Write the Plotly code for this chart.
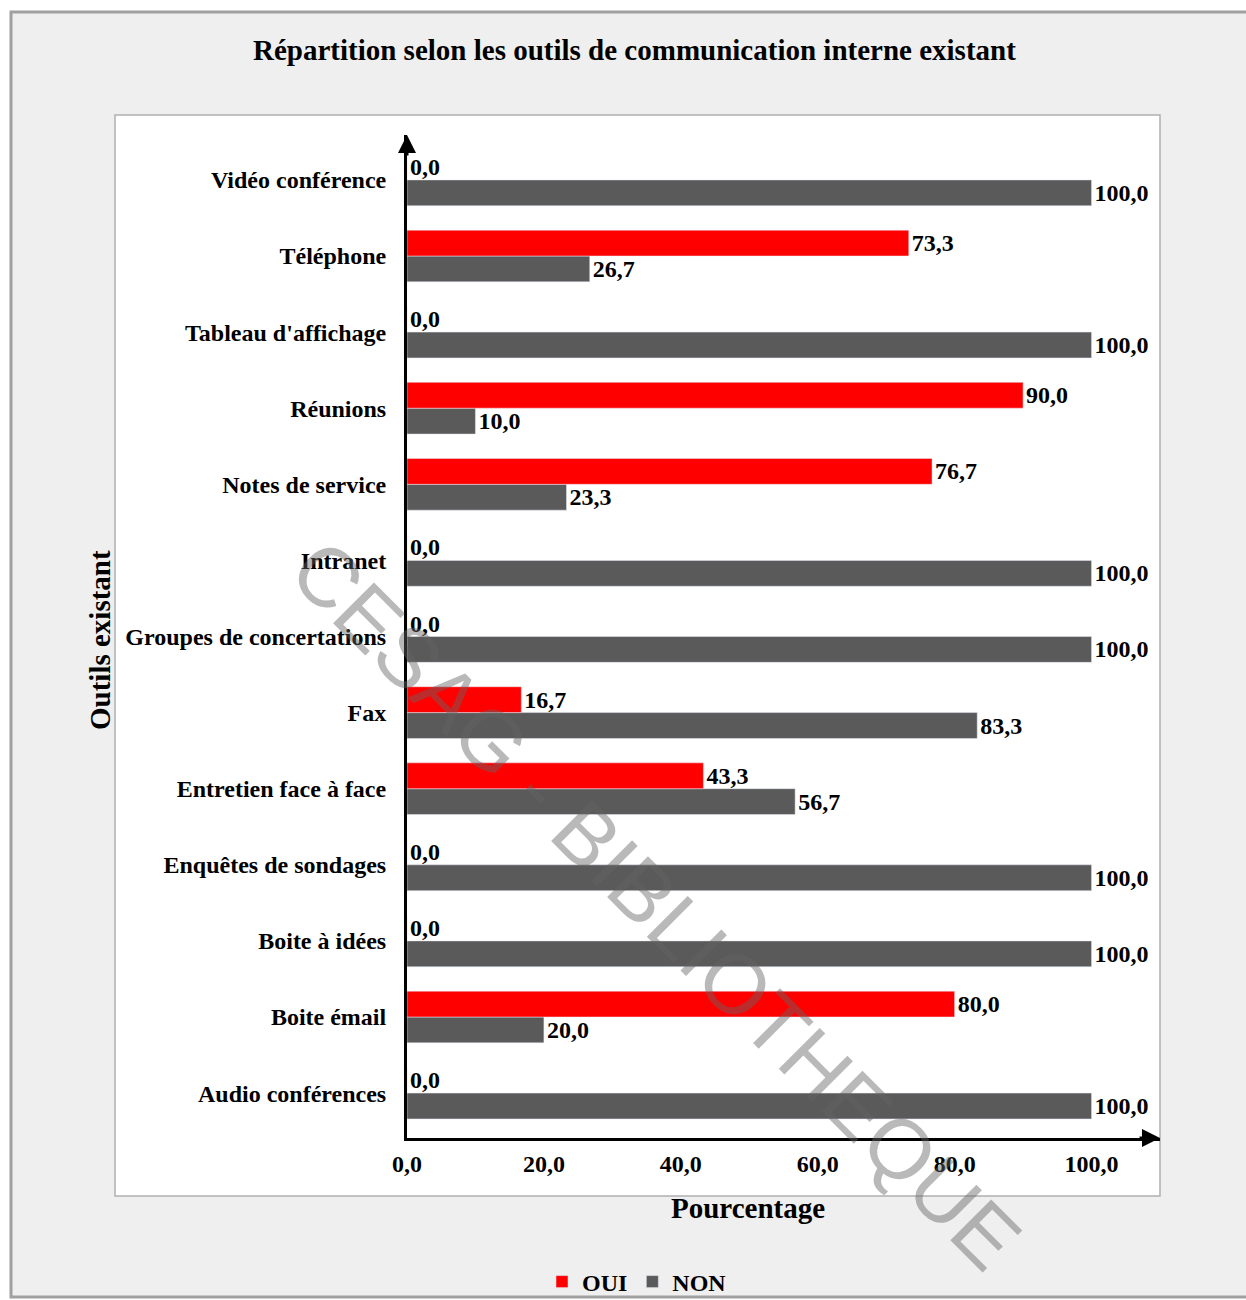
import plotly.graph_objects as go

# ---- data (bottom -> top as drawn) ----
categories = ["Audio conférences", "Boite émail", "Boite à idées", "Enquêtes de sondages",
              "Entretien face à face", "Fax", "Groupes de concertations", "Intranet",
              "Notes de service", "Réunions", "Tableau d'affichage", "Téléphone",
              "Vidéo conférence"]
oui = [0.0, 80.0, 0.0, 0.0, 43.3, 16.7, 0.0, 0.0, 76.7, 90.0, 0.0, 73.3, 0.0]
non = [100.0, 20.0, 100.0, 100.0, 56.7, 83.3, 100.0, 100.0, 23.3, 10.0, 100.0, 26.7, 100.0]
x_ticks = [0, 20, 40, 60, 80, 100]

title_text = "Répartition selon les outils de communication interne existant"
x_title = "Pourcentage"
y_title = "Outils existant"
watermark = "CESAG - BIBLIOTHEQUE"

W, H = 1246, 1300
L, R, T, B = 407, 1160, 135, 1138  # plot area in pixels


def px(xp):
    return (xp - L) / (R - L)


def py(yp):
    return (B - yp) / (B - T)


SERIF = "Liberation Serif"
RED = "#ff0000"
GRAY = "#5a5a5a"

fig = go.Figure()
fig.add_trace(go.Bar(
    y=categories, x=non, orientation="h", name="NON", marker_color=GRAY,
    texttemplate="%{x:.1f}", textposition="outside", cliponaxis=False,
    constraintext="none", legendrank=2,
    textfont=dict(family=SERIF, size=24, color="black", weight="bold"),
))
fig.add_trace(go.Bar(
    y=categories, x=oui, orientation="h", name="OUI", marker_color=RED,
    texttemplate="%{x:.1f}", textposition="outside", cliponaxis=False,
    constraintext="none", legendrank=1,
    textfont=dict(family=SERIF, size=24, color="black", weight="bold"),
))

shapes = [
    dict(type="rect", xref="paper", yref="paper", layer="below",
         x0=px(11), x1=px(1252), y0=py(1297), y1=py(12),
         fillcolor="#efefef", line=dict(color="#a0a0a0", width=3)),
    dict(type="rect", xref="paper", yref="paper", layer="below",
         x0=px(115), x1=px(1160), y0=py(1196), y1=py(115),
         fillcolor="white", line=dict(color="#b0b0b0", width=1.5)),
]

annotations = [
    dict(text=title_text, xref="paper", yref="paper", x=px(634), y=py(50),
         xanchor="center", yanchor="middle",
         showarrow=False, font=dict(family=SERIF, size=29, color="black", weight="bold")),
    dict(text=x_title, xref="paper", yref="paper", x=px(748), y=py(1208),
         xanchor="center", yanchor="middle",
         showarrow=False, font=dict(family=SERIF, size=29, color="black", weight="bold")),
    dict(text=y_title, xref="paper", yref="paper", x=px(100), y=py(640), textangle=-90,
         xanchor="center", yanchor="middle",
         showarrow=False, font=dict(family=SERIF, size=29, color="black", weight="bold")),
    # axis arrows
    dict(xref="paper", yref="paper", x=1.0, y=0.0, ax=-22, ay=0, text="",
         showarrow=True, arrowhead=2, arrowsize=1.2, arrowwidth=3, arrowcolor="black"),
    dict(xref="paper", yref="paper", x=0.0, y=1.0, ax=0, ay=22, text="",
         showarrow=True, arrowhead=2, arrowsize=1.2, arrowwidth=3, arrowcolor="black"),
    # watermark
    dict(text=watermark, xref="paper", yref="paper", x=px(656), y=py(905), textangle=45,
         xanchor="center", yanchor="middle",
         showarrow=False, font=dict(family="Liberation Sans", size=84,
                                    color="rgba(100,100,100,0.45)")),
]

fig.update_layout(
    width=W, height=H,
    margin=dict(l=L, r=W - R, t=T, b=H - B, pad=0, autoexpand=False),
    paper_bgcolor="white", plot_bgcolor="white",
    separators=",.",
    barmode="group", bargap=0.32, bargroupgap=0.0,
    shapes=shapes, annotations=annotations,
    showlegend=True,
    legend=dict(orientation="h", x=px(637), y=py(1282), xanchor="center", yanchor="middle",
                bgcolor="rgba(0,0,0,0)", traceorder="normal",
                font=dict(family=SERIF, size=24, color="black", weight="bold"),
                itemwidth=30, tracegroupgap=0),
    xaxis=dict(range=[0, 110], tickvals=x_ticks, tickformat=".1f", showgrid=False,
               zeroline=False, showline=True, linecolor="black", linewidth=3,
               ticks="", ticklabelstandoff=2,
               tickfont=dict(family=SERIF, size=24, color="black", weight="bold")),
    yaxis=dict(type="category", categoryorder="array", categoryarray=categories,
               range=[-0.59, 12.59], showgrid=False, zeroline=False, showline=True,
               linecolor="black", linewidth=3, ticks="", ticklabelstandoff=13,
               tickfont=dict(family=SERIF, size=24, color="black", weight="bold")),
)

fig.write_html("out.html")
